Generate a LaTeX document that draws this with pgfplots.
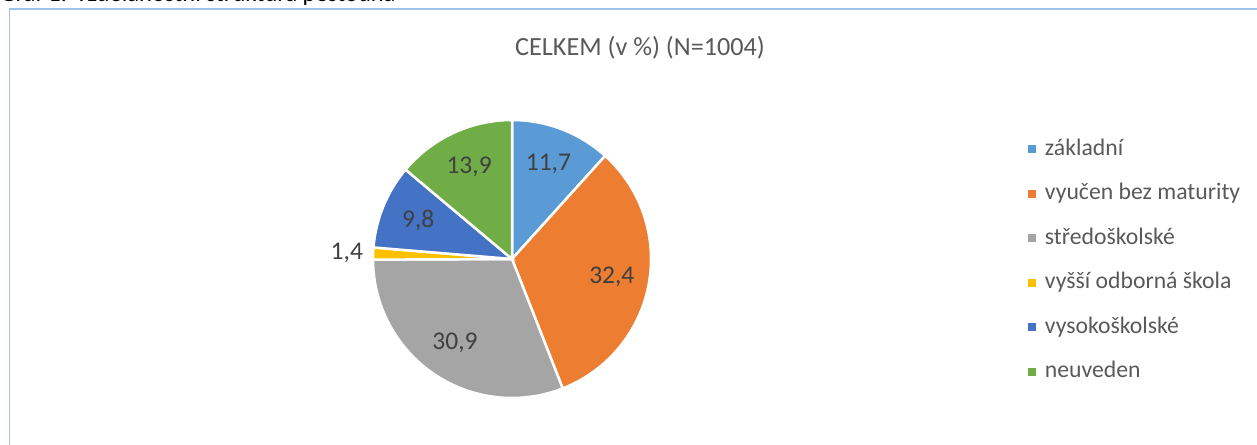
\documentclass[border=0pt]{standalone}
\usepackage{pgfplots}
\pgfplotsset{compat=1.18}
\usepgfplotslibrary{polar}
\usepackage{fontspec}
\setmainfont{Carlito}
\definecolor{cA}{HTML}{5B9BD5}
\definecolor{cB}{HTML}{ED7D31}
\definecolor{cC}{HTML}{A5A5A5}
\definecolor{cD}{HTML}{FFC000}
\definecolor{cE}{HTML}{4472C4}
\definecolor{cF}{HTML}{70AD47}
\definecolor{framec}{HTML}{9DC3E6}
\definecolor{txt}{HTML}{595959}
\definecolor{lbl}{HTML}{404040}
\tikzset{lblstyle/.style={font=\fontsize{25.5bp}{30bp}\selectfont, text=lbl}}
% values (%)
\def\vA{11.7}\def\vB{32.4}\def\vC{30.9}\def\vD{1.4}\def\vE{9.8}\def\vF{13.9}
\pgfmathsetmacro\tot{\vA+\vB+\vC+\vD+\vE+\vF}
\pgfmathsetmacro\angk{360/\tot}
\pgfmathsetmacro\aA{90}
\pgfmathsetmacro\aB{\aA-\vA*\angk}
\pgfmathsetmacro\aC{\aB-\vB*\angk}
\pgfmathsetmacro\aD{\aC-\vC*\angk}
\pgfmathsetmacro\aE{\aD-\vD*\angk}
\pgfmathsetmacro\aF{\aE-\vE*\angk}
\pgfmathsetmacro\aG{\aF-\vF*\angk}
\pgfmathsetmacro\mA{(\aA+\aB)/2}
\pgfmathsetmacro\mB{(\aB+\aC)/2}
\pgfmathsetmacro\mC{(\aC+\aD)/2}
\pgfmathsetmacro\mD{(\aD+\aE)/2}
\pgfmathsetmacro\mE{(\aE+\aF)/2}
\pgfmathsetmacro\mF{(\aF+\aG)/2}
\begin{document}%
\begin{tikzpicture}
\node[anchor=base west, inner sep=0pt, font=\fontsize{24.5bp}{28bp}\selectfont, text=black] at (0bp,443bp) {Graf 1: Vzdělanostní struktura pěstouna};
\draw[framec, line width=1.5bp] (9.5bp,-5bp) |- (1270bp,436bp);
\node[font=\fontsize{26.2bp}{30bp}\selectfont, text=txt] at (640bp,397bp) {CELKEM (v \%) (N=1004)};
\begin{polaraxis}[
  at={(512bp,186bp)}, anchor=center,
  scale only axis, width=278bp, height=278bp,
  xmin=0, xmax=360, ymin=0, ymax=1,
  hide axis, clip=false,
  legend image code/.code={\fill[#1,draw=none] (0bp,-4bp) rectangle (8bp,4bp);},
  legend cell align=left,
  legend style={draw=none, fill=none, inner sep=0pt, outer sep=0pt,
    at={(2.356,0.935)}, anchor=north west, row sep=22.5bp,
    nodes={inner sep=0pt, text height=17bp, text depth=5bp},
    font=\fontsize{23.7bp}{28bp}\selectfont, text=txt,
    /tikz/every odd column/.append style={column sep=9bp}},
]
\addplot[fill=cA, draw=white, line width=2.5bp, domain=\aB:\aA, samples=60] {1} -- (axis cs:0,0) -- cycle;
\addplot[fill=cB, draw=white, line width=2.5bp, domain=\aC:\aB, samples=90] {1} -- (axis cs:0,0) -- cycle;
\addplot[fill=cC, draw=white, line width=2.5bp, domain=\aD:\aC, samples=90] {1} -- (axis cs:0,0) -- cycle;
\addplot[fill=cD, draw=white, line width=2.5bp, domain=\aE:\aD, samples=10] {1} -- (axis cs:0,0) -- cycle;
\addplot[fill=cE, draw=white, line width=2.5bp, domain=\aF:\aE, samples=50] {1} -- (axis cs:0,0) -- cycle;
\addplot[fill=cF, draw=white, line width=2.5bp, domain=\aG:\aF, samples=60] {1} -- (axis cs:0,0) -- cycle;
\legend{základní, vyučen bez maturity, středoškolské, vyšší odborná škola, vysokoškolské, neuveden}
\node[lblstyle] at (axis cs:\mA,0.73) {11,7};
\node[lblstyle] at (axis cs:\mB,0.73) {32,4};
\node[lblstyle] at (axis cs:\mC,0.73) {30,9};
\node[lblstyle, anchor=east, inner sep=0pt] at (axis cs:\mD,1.072) {1,4};
\node[lblstyle] at (axis cs:\mE,0.73) {9,8};
\node[lblstyle] at (axis cs:\mF,0.73) {13,9};
\end{polaraxis}
\pgfresetboundingbox
\useasboundingbox (0bp,0bp) rectangle (1257bp,445bp);
\end{tikzpicture}%
\end{document}
